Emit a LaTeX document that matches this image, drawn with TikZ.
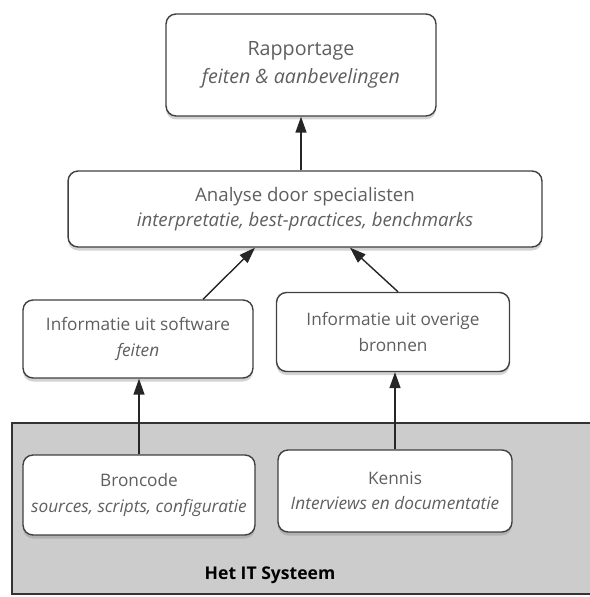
\documentclass[tikz,border=0pt]{standalone}
\usepackage{fontspec}
\setmainfont{Open Sans}
\usepackage{xcolor}
\usepackage{tikz}
\usetikzlibrary{arrows.meta}
\usetikzlibrary{shadows}
\definecolor{boxtext}{RGB}{95,95,95}
\definecolor{sysgrey}{RGB}{204,204,204}

\begin{document}
\begin{tikzpicture}[x=0.02cm,y=-0.02cm]
	\useasboundingbox (0,0) rectangle (589,597);
	\draw[fill=sysgrey,draw=black!80,line width=0.9pt] (12,423) rectangle (620,594);
	\draw (270,575) node {\fontsize{10}{12}\selectfont\bfseries Het IT Systeem};
	\tikzstyle{every node}=[draw=black!75,fill=white,line width=0.8pt,rounded corners=2mm,align=center,text=boxtext,inner xsep=2pt,font=\fontsize{9.8}{14.5}\selectfont,drop shadow={shadow xshift=0pt,shadow yshift=-2pt,opacity=0.35}];
	\node[minimum width=5.4cm,minimum height=2.04cm,font=\fontsize{11.2}{16}\selectfont] (rap) at (301,65) {Rapportage\\ \textit{feiten \& aanbevelingen}};
	\node[minimum width=9.48cm,minimum height=1.52cm,font=\fontsize{10.6}{14.5}\selectfont] (ana) at (305,209) {Analyse door specialisten\\ \textit{interpretatie, best-practices, benchmarks}};
	\node[minimum width=4.6cm,minimum height=1.56cm] (sw) at (138,339) {Informatie uit software\\ \textit{feiten}};
	\node[minimum width=4.66cm,minimum height=1.58cm] (ov) at (393,332) {Informatie uit overige\\ bronnen};
	\node[minimum width=4.64cm,minimum height=1.6cm] (bron) at (139,495) {Broncode\\ \textit{sources, scripts, configuratie}};
	\node[minimum width=4.68cm,minimum height=1.64cm] (ken) at (395,491) {Kennis\\ \textit{Interviews en documentatie}};
	\tikzstyle{every path}=[draw=black!85,line width=0.8pt,-{Triangle[length=3.2mm,width=2.2mm]}];
	\draw (ana.north -| rap.south) -- (rap.south);
	\draw ([xshift=1.3cm]sw.north) -- ([xshift=-1cm]ana.south);
	\draw ([xshift=0.1cm]ov.north) -- ([xshift=0.9cm]ana.south);
	\draw (bron.north) -- (bron.north |- sw.south);
	\draw (ken.north) -- (ken.north |- ov.south);
\end{tikzpicture}
\end{document}
